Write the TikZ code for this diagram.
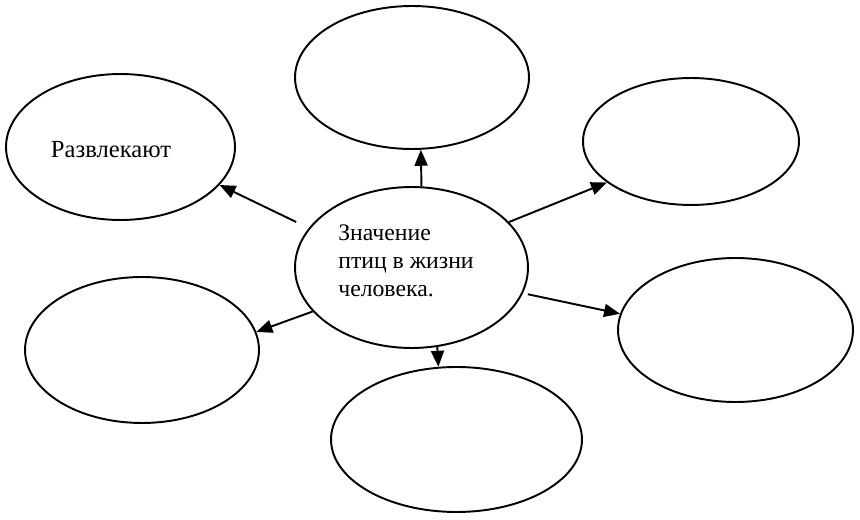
\documentclass[tikz,border=0pt]{standalone}
\usepackage{fontspec}
\setmainfont{Liberation Serif}
\newfontfamily\rusfont{Liberation Serif}
\usetikzlibrary{shapes.geometric,arrows.meta}
\begin{document}
\begin{tikzpicture}[x=0.02cm,y=-0.02cm,line width=1.1pt,
    >={Triangle[length=0.32cm,width=0.26cm]},
    oval/.style={draw,ellipse,inner sep=0pt},
    label text/.style={inner sep=0pt,font=\rusfont\fontsize{#1}{15.9}\selectfont}]
      \useasboundingbox (0,0) rectangle (860,520);
      % центральный овал
      \node[oval,minimum width=4.66cm,minimum height=3.22cm] (mid) at (411.5,267.5) {};
      \node[label text=13.5,align=left] (midtext) at (406,261) {Значение\\птиц в жизни\\человека.};
      % овалы вокруг
      \node[oval,minimum width=4.68cm,minimum height=2.86cm] (up) at (412,77.5) {};
      \node[oval,minimum width=4.58cm,minimum height=2.92cm] (upleft) at (120.5,147) {};
      \node[oval,minimum width=4.32cm,minimum height=2.54cm] (upright) at (691,141.5) {};
      \node[oval,minimum width=4.68cm,minimum height=2.92cm] (lowleft) at (142,350) {};
      \node[oval,minimum width=4.70cm,minimum height=2.88cm] (lowright) at (735.5,330) {};
      \node[oval,minimum width=5.02cm,minimum height=2.90cm] (down) at (456.5,439.5) {};
      \node[label text=14] (fun) at (111,150) {Развлекают};
      % стрелки от центра
      \draw[->] (mid.83) -- (up.-83);
      \draw[->,shorten <=0.28cm] (mid.159) -- (upleft.-21);
      \draw[->] (mid.25) -- (upright.206);
      \draw[->] (mid.204) -- (lowleft.9);
      \draw[->,shorten <=0.1cm] (mid.-13) -- (lowright.172);
      \draw[->] (mid.-72) -- (down.104);
    \end{tikzpicture}
\end{document}
